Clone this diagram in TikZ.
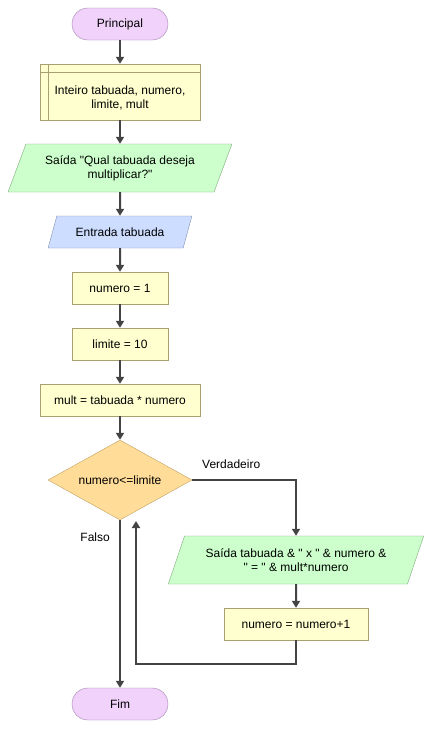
\documentclass[tikz,border=0pt]{standalone}
\usepackage{fontspec}
\setmainfont{Liberation Sans}
\usepackage{tikz}
\usetikzlibrary{arrows.meta,shapes,positioning,calc}

\definecolor{termfill}{HTML}{F0D2FA}
\definecolor{termline}{HTML}{A080B0}
\definecolor{procfill}{HTML}{FFFFD0}
\definecolor{procline}{HTML}{A8A070}
\definecolor{outfill}{HTML}{CCFFCC}
\definecolor{outline}{HTML}{80A880}
\definecolor{infill}{HTML}{CCDDFF}
\definecolor{inline}{HTML}{8090B0}
\definecolor{decfill}{HTML}{FFDD99}
\definecolor{decline}{HTML}{C0A060}
\definecolor{flow}{HTML}{444444}

\newcommand{\qd}{\textquotedbl}

\begin{document}
\begin{tikzpicture}[x=1pt, y=-1pt,
  every node/.style={font=\fontsize{12}{14}\selectfont, align=center, inner sep=2pt},
  term/.style={draw=termline, fill=termfill, rectangle, rounded corners=16pt, minimum width=96pt, minimum height=32pt},
  proc/.style={draw=procline, fill=procfill, rectangle, minimum height=32pt},
  iobox/.style={trapezium, trapezium left angle=63.43, trapezium right angle=116.57, trapezium stretches=true},
  outbox/.style={iobox, draw=outline, fill=outfill, minimum height=48pt},
  inbox/.style={iobox, draw=inline, fill=infill, minimum height=32pt},
  decbox/.style={draw=decline, fill=decfill, diamond, aspect=1.8, minimum width=144pt, minimum height=80pt, inner sep=0pt},
  lbl/.style={inner sep=0pt},
  arr/.style={draw=flow, line width=2pt, -{Triangle[width=8pt,length=7pt]}}]
\useasboundingbox (0,0) rectangle (433,729);

% Start
\node[term] (ini) at (120,24) {Principal};

% Variables
\node[proc, minimum width=160pt, minimum height=56pt, text height=34pt] (decl) at (120,92) {Inteiro tabuada, numero,\\limite, mult};
\draw[procline] ([xshift=8pt]decl.north west) -- ([xshift=8pt]decl.south west);
\draw[procline] ([yshift=-8pt]decl.north west) -- ([yshift=-8pt]decl.north east);

% Input / output
\node[outbox, minimum width=224pt] (out1) at (120,168) {Saída \qd Qual tabuada deseja\\multiplicar?\qd};
\node[inbox, minimum width=144pt] (in1) at (120,232) {Entrada tabuada};

% Assignments
\node[proc, minimum width=96pt] (num) at (120,288) {numero = 1};
\node[proc, minimum width=96pt] (lim) at (120,344) {limite = 10};
\node[proc, minimum width=160pt] (mult) at (120,400) {mult = tabuada * numero};

% Loop
\node[decbox] (dec) at (120,480) {numero<=limite};
\node[outbox, minimum width=256pt] (out2) at (296,560) {Saída tabuada \& \qd{} x \qd{} \& numero \&\\\qd{} = \qd{} \& mult*numero};
\node[proc, minimum width=144pt] (inc) at (296,624) {numero = numero+1};

% End
\node[term] (fim) at (120,704) {Fim};

% Labels
\node[lbl, anchor=west] (lblv) at (202,464) {Verdadeiro};
\node[lbl, anchor=east] (lblf) at (110,537) {Falso};

% Connections
\coordinate (back) at (136,521);
\draw[arr] (ini) -- (decl);
\draw[arr] (decl) -- (out1);
\draw[arr] (out1) -- (in1);
\draw[arr] (in1) -- (num);
\draw[arr] (num) -- (lim);
\draw[arr] (lim) -- (mult);
\draw[arr] (mult) -- (dec);
\draw[arr] (dec.east) -| (out2.north);
\draw[arr] (out2) -- (inc);
\draw[arr] (inc.south) -- ++(0,24) -| (back);
\draw[arr] (dec.south) -- (fim.north);

\end{tikzpicture}
\end{document}
